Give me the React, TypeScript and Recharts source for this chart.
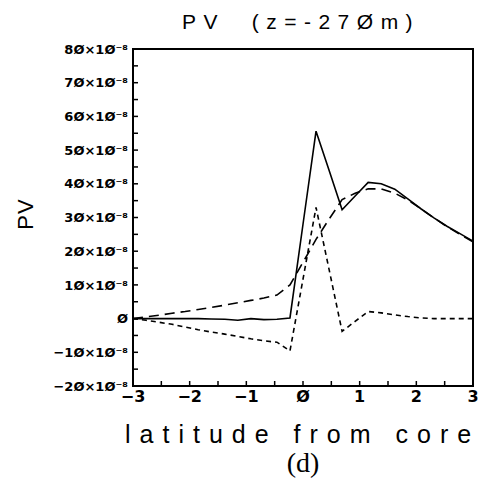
import { LineChart, Line, XAxis, YAxis } from "recharts";

// latitude grid (deg from core)
const lat = [
  -3, -2.77, -2.54, -2.31, -2.08, -1.85, -1.62, -1.38, -1.15, -0.92, -0.69, -0.46, -0.23,
  0, 0.23, 0.46, 0.69, 0.92, 1.15, 1.38, 1.62, 1.85, 2.08, 2.31, 2.54, 2.77, 3,
];
const pvTotal = [
  0, 0, 0, 0, 0, 0, -0.1, -0.2, -0.5, 0, -0.3, -0.2, 0.2,
  28, 55.6, 44, 32.3, 36.4, 40.4, 40, 38.4, 35.5, 32.6, 29.9, 27.4, 25.2, 23,
];
const pvLong = [
  0, 0.5, 1, 1.6, 2.1, 2.7, 3.3, 4, 4.7, 5.4, 6.1, 7, 10,
  16.7, 23.5, 29.5, 35.3, 37.2, 38.5, 38.5, 37.2, 35.2, 32.6, 29.9, 27.3, 25, 22.8,
];
const pvShort = [
  0, -0.5, -1.1, -1.7, -2.5, -3.3, -4, -4.6, -5.3, -6, -6.6, -7, -9.6,
  11.7, 33, 14.6, -3.8, -0.8, 2.1, 1.7, 1.1, 0.6, 0.2, 0, 0, 0, 0,
];

const xTicks = [-3, -2.5, -2, -1.5, -1, -0.5, 0, 0.5, 1, 1.5, 2, 2.5, 3];
const yTicks = [-20, -15, -10, -5, 0, 5, 10, 15, 20, 25, 30, 35, 40, 45, 50, 55, 60, 65, 70, 75, 80];
const yExponent = "⁻⁸";

const data = lat.map((l, i) => ({ lat: l, total: pvTotal[i], long: pvLong[i], short: pvShort[i] }));

const slashZero = (v: number) => String(v).replace(/0/g, "Ø");

const fmtX = (v: number) => {
  if (!Number.isInteger(v)) return "";
  return v < 0 ? "−" + slashZero(-v) : slashZero(v);
};
const fmtY = (v: number) => {
  if (v % 10 !== 0) return "";
  if (v === 0) return "Ø";
  return (v < 0 ? "−" : "") + slashZero(Math.abs(v)) + "×1Ø" + yExponent;
};

const tickText = { fontFamily: "DejaVu Sans", fontWeight: 700, fontSize: 13, fill: "#000" };

export default function App() {
  return (
    <div style={{ position: "absolute", left: 0, top: 0, width: 496, height: 488, background: "#fff" }}>
      <LineChart width={496} height={488} data={data} margin={{ top: 39, right: 13, left: 0, bottom: 0 }}>
        <XAxis
          dataKey="lat"
          type="number"
          domain={[-3, 3]}
          ticks={xTicks}
          interval={0}
          height={102}
          tickSize={-5}
          tickMargin={10}
          tickFormatter={fmtX}
          tick={{ ...tickText, fontSize: 16 }}
          tickLine={{ stroke: "#000", strokeWidth: 1.5 }}
          axisLine={{ stroke: "#000", strokeWidth: 2 }}
        />
        <XAxis
          xAxisId="top"
          orientation="top"
          dataKey="lat"
          type="number"
          domain={[-3, 3]}
          tickCount={61}
          interval={0}
          height={10}
          tickSize={-3}
          tick={false}
          tickLine={{ stroke: "#000", strokeWidth: 1 }}
          axisLine={{ stroke: "#000", strokeWidth: 2 }}
        />
        <YAxis
          type="number"
          domain={[-20, 80]}
          ticks={yTicks}
          interval={0}
          width={133}
          tickSize={-5}
          tickMargin={10}
          tickFormatter={fmtY}
          tick={tickText}
          tickLine={{ stroke: "#000", strokeWidth: 1.5 }}
          axisLine={{ stroke: "#000", strokeWidth: 2 }}
        />
        <YAxis
          yAxisId="right"
          orientation="right"
          type="number"
          domain={[-20, 80]}
          tickCount={21}
          interval={0}
          width={10}
          tickSize={-5}
          tick={false}
          tickLine={{ stroke: "#000", strokeWidth: 1.5 }}
          axisLine={{ stroke: "#000", strokeWidth: 2 }}
        />
        <Line xAxisId="top" yAxisId="right" type="linear" dataKey="total" stroke="none" dot={false} isAnimationActive={false} />
        <Line type="linear" dataKey="long" stroke="#000" strokeWidth={1.6} strokeDasharray="10 6" dot={false} isAnimationActive={false} />
        <Line type="linear" dataKey="short" stroke="#000" strokeWidth={1.6} strokeDasharray="5 4" dot={false} isAnimationActive={false} />
        <Line type="linear" dataKey="total" stroke="#000" strokeWidth={1.6} dot={false} isAnimationActive={false} />
      </LineChart>
      {/* plot frame (same box as the axes) */}
      <div
        style={{
          position: "absolute",
          left: 132,
          top: 48,
          width: 342,
          height: 339,
          boxSizing: "border-box",
          border: "2px solid #000",
          pointerEvents: "none",
        }}
      />
      <div style={{ position: "absolute", left: 182, top: 10, fontFamily: "Liberation Sans", fontSize: 21, letterSpacing: 7.5, whiteSpace: "pre", color: "#000" }}>
        PV  (z=-27Øm)
      </div>
      <div
        style={{
          position: "absolute",
          left: 26,
          top: 214,
          fontFamily: "Liberation Sans",
          fontSize: 22,
          letterSpacing: 1,
          color: "#000",
          transform: "translate(-50%, -50%) rotate(-90deg)",
          whiteSpace: "pre",
        }}
      >
        PV
      </div>
      <div style={{ position: "absolute", left: 125, top: 420, fontFamily: "Liberation Sans", fontSize: 25, letterSpacing: 9, whiteSpace: "pre", color: "#000" }}>
        latitude from core
      </div>
      <div style={{ position: "absolute", left: 253, width: 100, top: 447, textAlign: "center", fontFamily: "Liberation Serif", fontSize: 28, color: "#000" }}>
        (d)
      </div>
    </div>
  );
}
